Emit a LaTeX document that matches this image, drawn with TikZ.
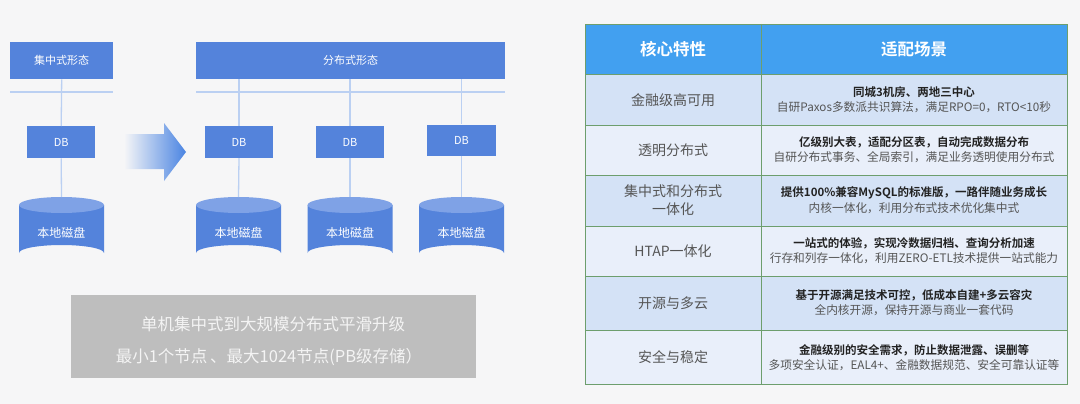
\documentclass[tikz,border=0pt]{standalone}
\usepackage{fontspec}
\setmainfont{Noto Sans CJK SC}
\newfontfamily\cjkb{Noto Sans CJK SC Bold}
\begin{document}
\begin{tikzpicture}[x=1pt,y=-1pt,
  boxblue/.style={fill=bb, draw=none, text=white, font=\fontsize{11}{13}\selectfont},
  linkline/.style={draw=lb, line width=1.3pt},
  leftcell/.style={text=tg, font=\fontsize{14}{17}\selectfont, align=center},
  boldline/.style={text=tdark, font=\cjkb\fontsize{11.5}{13}\selectfont},
  thinline/.style={text=tg, font=\fontsize{11.7}{13}\selectfont},
  hdr/.style={text=white, font=\cjkb\fontsize{16.5}{19}\selectfont}
]
\definecolor{bg}{HTML}{F6F6F7}
\definecolor{bb}{HTML}{5483DB}
\definecolor{ctop}{HTML}{7FA2E6}
\definecolor{lb}{HTML}{BBD0F2}
\definecolor{arrowb}{HTML}{4A84E2}
\definecolor{gbox}{HTML}{BEBEBE}
\definecolor{hdrc}{HTML}{42A0F0}
\definecolor{rowd}{HTML}{D4E2F6}
\definecolor{rowl}{HTML}{E9EFFA}
\definecolor{grn}{HTML}{6D9E6D}
\definecolor{tg}{HTML}{555555}
\definecolor{tdark}{HTML}{222222}
\definecolor{gtext}{HTML}{F4F4F4}
\fill[bg] (0,0) rectangle (1080,404);
\useasboundingbox (0,0) rectangle (1080,404);

% ---- left: centralized
\node[boxblue, minimum width=103pt, minimum height=37pt, anchor=north west] (cen) at (10,42) {集中式形态};
\draw[linkline] (10,92) -- (113,92);
\node[boxblue, minimum width=68pt, minimum height=32pt, anchor=north west] (db0) at (27,126) {DB};
% cylinders
\foreach \cx/\nm in {61.5/c0, 238.5/c1, 350/c2, 461.5/c3}{
  \fill[bb] (\cx-42.5,205) -- (\cx-42.5,253) arc[start angle=180,end angle=360,x radius=42.5,y radius=8] -- (\cx+42.5,205) -- cycle;
  \fill[ctop] (\cx,205) ellipse[x radius=42.5, y radius=8];
  \coordinate (\nm top) at (\cx,197);
  \node[text=white, font=\fontsize{12}{14}\selectfont] (\nm) at (\cx,233) {本地磁盘};
}
\draw[linkline] (cen.south) -- (db0.north);
\draw[linkline] (db0.south) -- (c0top);

% ---- arrow
\shade[left color=bg, right color=arrowb] (124,134) -- (164,134) -- (164,123) -- (186,152) -- (164,181) -- (164,169) -- (124,169) -- cycle;

% ---- right: distributed
\node[boxblue, minimum width=309pt, minimum height=37pt, anchor=north west] (dis) at (196,42) {分布式形态};
\draw[linkline] (196,92) -- (505,92);
\node[boxblue, minimum width=68pt, minimum height=32pt] (db1) at (239,142) {DB};
\node[boxblue, minimum width=68pt, minimum height=32pt] (db2) at (350,142) {DB};
\node[boxblue, minimum width=69pt, minimum height=31pt] (db3) at (461.5,140) {DB};
\draw[linkline] (db1.north |- dis.south) -- (db1.north);
\draw[linkline] (db2.north |- dis.south) -- (db2.north);
\draw[linkline] (db3.north |- dis.south) -- (db3.north);
\draw[linkline] (db1.south) -- (c1top);
\draw[linkline] (db2.south) -- (c2top);
\draw[linkline] (db3.south) -- (c3top);

% ---- gray box
\node[fill=gbox, draw=none, minimum width=405pt, minimum height=83pt, anchor=north west] (gb) at (71,295) {};
\node[text=gtext, font=\fontsize{16.5}{19}\selectfont] (g1) at (273,324) {单机集中式到大规模分布式平滑升级};
\node[text=gtext, font=\fontsize{16.5}{19}\selectfont] (g2) at (269,357) {最小1个节点\,、最大1024节点(PB级存储）};

% ---- table
\fill[white] (585,24) rectangle (1067,384);
\fill[hdrc] (585,24) rectangle (1067,74);
\fill[rowd] (585,74) rectangle (1067,125);
\fill[rowl] (585,125) rectangle (1067,175);
\fill[rowd] (585,175) rectangle (1067,226);
\fill[rowl] (585,226) rectangle (1067,276);
\fill[rowd] (585,276) rectangle (1067,330);
\fill[rowl] (585,330) rectangle (1067,384);
\draw[grn, line width=0.9pt] (585,24) rectangle (1067,384);
\draw[grn, line width=0.9pt] (761,24) -- (761,384);
\foreach \yy in {74,125,175,226,276,330} \draw[grn, line width=0.9pt] (585,\yy) -- (1067,\yy);

\node[hdr] (h1) at (673,49) {核心特性};
\node[hdr] (h2) at (914,49) {适配场景};

\node[leftcell] (l1) at (673,100) {金融级高可用};
\node[leftcell] (l2) at (673,150) {透明分布式};
\node[leftcell, font=\fontsize{14}{18}\selectfont] (l3) at (673,200) {集中式和分布式\\一体化};
\node[leftcell] (l4) at (673,251) {HTAP一体化};
\node[leftcell] (l5) at (673,303) {开源与多云};
\node[leftcell] (l6) at (673,357) {安全与稳定};

\node[boldline] (r1a) at (914,92) {同城3机房、两地三中心};
\node[thinline] (r1b) at (914,107) {自研Paxos多数派共识算法，满足RPO=0，RTO<10秒};
\node[boldline] (r2a) at (914,142) {亿级别大表，适配分区表，自动完成数据分布};
\node[thinline] (r2b) at (914,157) {自研分布式事务、全局索引，满足业务透明使用分布式};
\node[boldline] (r3a) at (914,193) {提供100\%兼容MySQL的标准版，一路伴随业务成长};
\node[thinline] (r3b) at (914,208) {内核一体化，利用分布式技术优化集中式};
\node[boldline] (r4a) at (914,243) {一站式的体验，实现冷数据归档、查询分析加速};
\node[thinline] (r4b) at (914,258) {行存和列存一体化，利用ZERO-ETL技术提供一站式能力};
\node[boldline] (r5a) at (914,295) {基于开源满足技术可控，低成本自建+多云容灾};
\node[thinline] (r5b) at (914,310) {全内核开源，保持开源与商业一套代码};
\node[boldline] (r6a) at (914,350) {金融级别的安全需求，防止数据泄露、误删等};
\node[thinline] (r6b) at (914,365) {多项安全认证，EAL4+、金融数据规范、安全可靠认证等};
\end{tikzpicture}
\end{document}
